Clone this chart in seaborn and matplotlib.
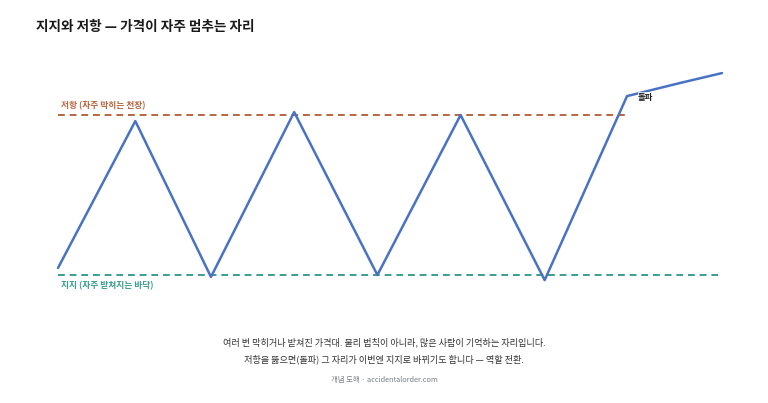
import seaborn as sns
import pandas as pd
import matplotlib.pyplot as plt

sns.set_style("white")
plt.rcParams['font.family'] = ['Noto Sans CJK KR', 'DejaVu Sans']

# 가격 경로 (시간, 가격)
days = [0, 9.2, 18.2, 28.1, 38, 47.9, 57.9, 67.7, 74, 79]
price = [102.2, 148.1, 99.4, 150.9, 100, 150, 98.4, 155.9, 160, 163.1]
support = 100
resistance = 150
breakout_day = 67.7

title = "지지와 저항 — 가격이 자주 멈추는 자리"
res_label = "저항 (자주 막히는 천장)"
sup_label = "지지 (자주 받쳐지는 바닥)"
break_label = "돌파"
caption1 = "여러 번 막히거나 받쳐진 가격대. 물리 법칙이 아니라, 많은 사람이 기억하는 자리입니다."
caption2 = "저항을 뚫으면(돌파) 그 자리가 이번엔 지지로 바뀌기도 합니다 — 역할 전환."
source = "개념 도해 · accidentalorder.com"

df = pd.DataFrame({"day": days, "price": price})

fig = plt.figure(figsize=(7.68, 4.03), dpi=100)
ax = fig.add_axes([58/768, 1 - 307/403, 664/768, 256/403])

res_c = "#b8653f"
sup_c = "#3a9e8e"

ax.hlines(resistance, 0, breakout_day, colors=res_c, linestyles=(0, (3.5, 2.5)), linewidth=1.4)
ax.hlines(support, 0, max(days), colors=sup_c, linestyles=(0, (3.5, 2.5)), linewidth=1.4)
sns.lineplot(data=df, x="day", y="price", ax=ax, color="#4a72c4", linewidth=1.8)
for ln in ax.lines:
    ln.set_clip_on(False)

ax.text(0.4, resistance + 1.5, res_label, color=res_c, fontsize=6.3, fontweight="bold", va="bottom")
ax.text(0.4, support - 1.8, sup_label, color=sup_c, fontsize=6.3, fontweight="bold", va="top")
ax.text(breakout_day + 1.3, price[7] - 0.3, break_label, color="#222222", fontsize=6,
        fontweight="bold", va="center",
        bbox=dict(facecolor="white", edgecolor="none", pad=0.3, alpha=0.7))

ax.set_xlim(0, 79)
ax.set_ylim(90, 170)
ax.axis("off")

fig.text(36/768, 1 - 27/403, title, fontsize=9.8, fontweight="bold", color="#1a1a1a", va="center")
fig.text(0.5, 1 - 342/403, caption1, fontsize=6.6, color="#333333", ha="center", va="center")
fig.text(0.5, 1 - 359/403, caption2, fontsize=6.6, color="#333333", ha="center", va="center")
fig.text(0.5, 1 - 380/403, source, fontsize=5.3, color="#7a7f8c", ha="center", va="center")

fig.savefig("out.png", dpi=100, facecolor="white")
